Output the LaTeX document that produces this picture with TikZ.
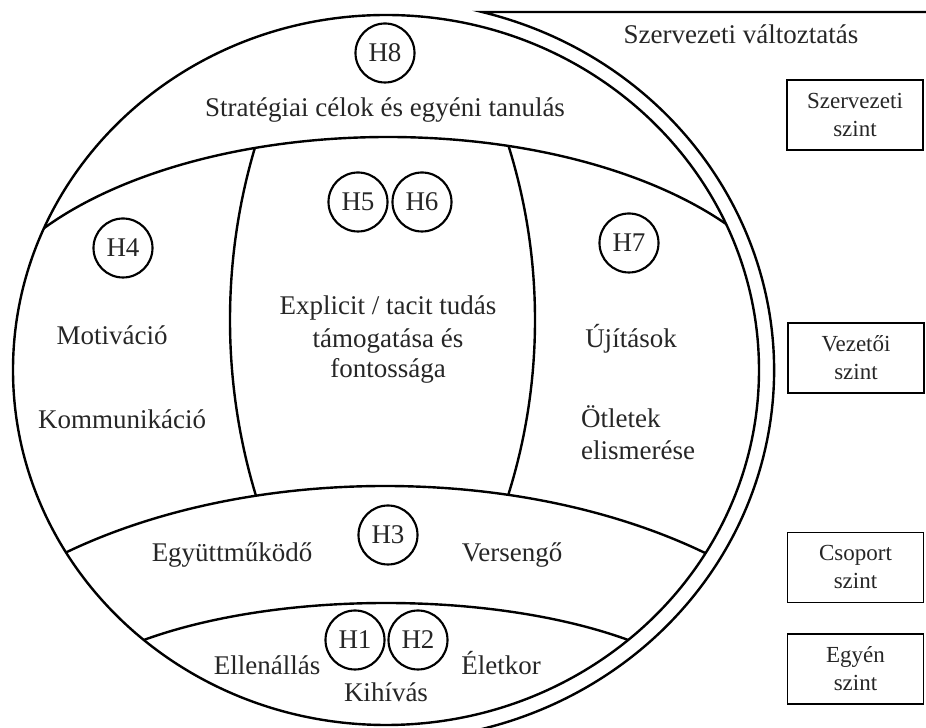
\documentclass[tikz,border=0pt]{standalone}
\usepackage{fontspec}
\setmainfont{Liberation Serif}
\begin{document}
\begin{tikzpicture}[x=0.75pt,y=0.75pt,line width=1.8pt,
  lbl/.style={font=\fontsize{20.25pt}{24pt}\selectfont,inner sep=0pt,anchor=base,text=black!85},
  hyp/.style={draw,circle,minimum size=44.25pt,inner sep=0pt,line width=1.6pt,font=\fontsize{20.25pt}{24pt}\selectfont,text=black!85},
  lvl/.style={draw,rectangle,minimum width=102pt,minimum height=52.5pt,align=center,line width=1.4pt,inner sep=0pt,font=\fontsize{17.25pt}{21pt}\selectfont,text=black!85}]
\clip (0,0) rectangle (926,728);
% outer band: Szervezeti valtoztatas
\coordinate (oend) at (926,716);
\coordinate (ostart) at (482,716);
\draw (oend) -- (ostart) arc[start angle=75.68,end angle=-78,x radius=388,y radius=370];
% main ellipse
\draw (386,358) ellipse [x radius=373,y radius=355];
\begin{scope}
  \clip (386,358) ellipse [x radius=373,y radius=355];
  \begin{scope}
    \clip (0,450) rectangle (926,728);
    \draw (388,377) ellipse [x radius=420,y radius=214];
  \end{scope}
  \draw (385,-47) ellipse [x radius=500,y radius=289];
  \draw (386,-8) ellipse [x radius=350,y radius=133];
\end{scope}
% middle column side curves
\begin{scope}
  \clip (388,377) ellipse [x radius=420,y radius=214];
  \clip (-115,-47) -- (-115,800) -- (885,800) -- (885,-47) arc[start angle=0,end angle=180,x radius=500,y radius=289] -- cycle;
  \draw (834,408) circle [radius=604];
  \draw (-47,408) circle [radius=582];
\end{scope}
% texts
\node[lbl] (szv) at (741,684) {Szervezeti változtatás};
\node[lbl] (strat) at (385,611) {Stratégiai célok és egyéni tanulás};
\node[lbl] (mot) at (112,383) {Motiváció};
\node[lbl] (komm) at (122,299) {Kommunikáció};
\node[lbl] (expl1) at (388,413) {Explicit / tacit tudás};
\node[lbl] (expl2) at (388,380) {támogatása és};
\node[lbl] (expl3) at (388,350) {fontossága};
\node[lbl] (ujit) at (631,380) {Újítások};
\node[lbl,anchor=base west] (otl1) at (580,300) {Ötletek};
\node[lbl,anchor=base west] (otl2) at (580,268) {elismerése};
\node[lbl] (egy) at (232,166) {Együttműködő};
\node[lbl] (vers) at (512,166) {Versengő};
\node[lbl] (ell) at (267,53) {Ellenállás};
\node[lbl] (kih) at (386,26) {Kihívás};
\node[lbl] (elet) at (501,53) {Életkor};
% hypotheses
\node[hyp] (h8) at (385,675) {H8};
\node[hyp] (h4) at (123,480) {H4};
\node[hyp] (h5) at (358,526) {H5};
\node[hyp] (h6) at (422,526) {H6};
\node[hyp] (h7) at (629,485) {H7};
\node[hyp] (h3) at (388,193) {H3};
\node[hyp] (h1) at (355,88) {H1};
\node[hyp] (h2) at (418,88) {H2};
% levels
\node[lvl] (l1) at (855,613) {Szervezeti\\szint};
\node[lvl] (l2) at (856,370) {Vezetői\\szint};
\node[lvl] (l3) at (855.5,160.5) {Csoport\\szint};
\node[lvl] (l4) at (855.5,59) {Egyén\\szint};
\end{tikzpicture}
\end{document}
